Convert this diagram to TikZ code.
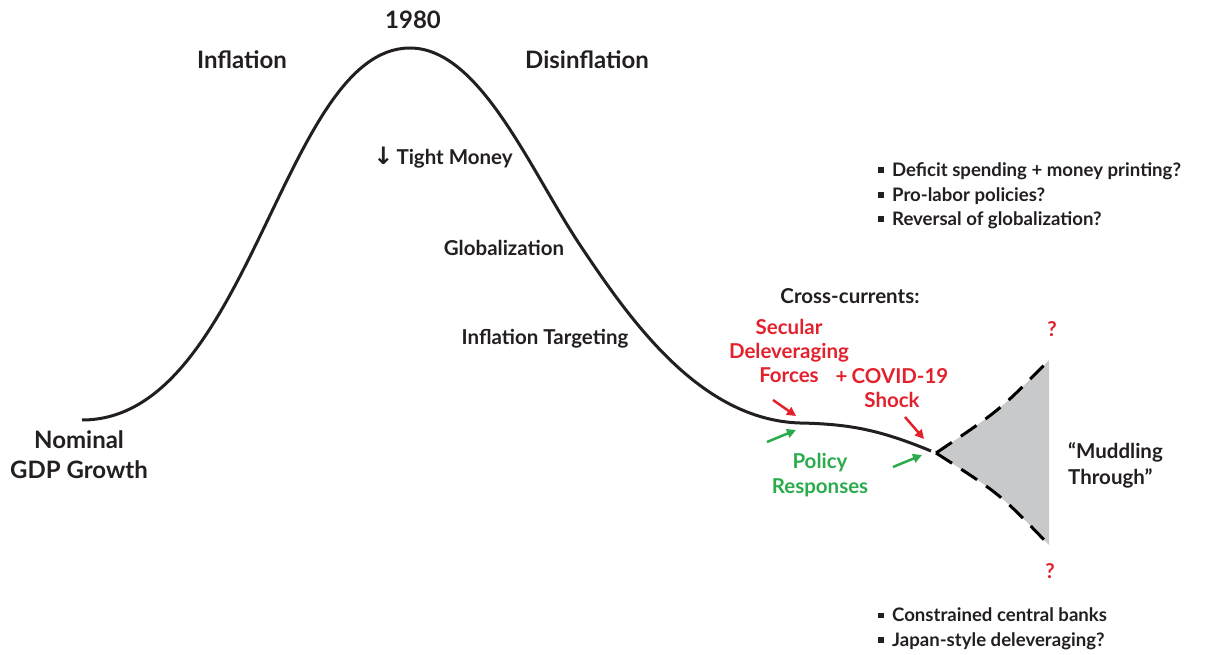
\documentclass[tikz,border=0pt]{standalone}
\usepackage{fontspec}
\setmainfont{Lato}
\newfontfamily\arrowfont{DejaVu Sans}
\usetikzlibrary{arrows.meta}
\definecolor{txtgray}{HTML}{231F20}
\definecolor{ptred}{HTML}{E3212D}
\definecolor{ptgreen}{HTML}{2BAB4B}
\definecolor{fangray}{HTML}{C8C9CB}
\newcommand{\sqbullet}{\raisebox{0.2em}{\rule{0.3em}{0.3em}}\hspace{0.45em}}

\begin{document}
\begin{tikzpicture}
    [x=1pt,y=-1pt,every node/.style={inner sep=0pt,text=txtgray,font=\bfseries},
     hdr/.style={font=\fontsize{24}{30}\selectfont\bfseries,align=center},
     lbl/.style={font=\fontsize{20.5}{26}\selectfont\bfseries},
     blt/.style={font=\fontsize{18.6}{24.5}\selectfont\bfseries,align=left,anchor=west},
     redlbl/.style={font=\fontsize{20.5}{24}\selectfont\bfseries,text=ptred,align=center},
     greenlbl/.style={font=\fontsize{20.5}{25}\selectfont\bfseries,text=ptgreen,align=center},
     push/.style={line width=2.5pt,-{Triangle[length=9pt,width=9pt]}}]
    \useasboundingbox (0,0) rectangle (1221,655);

    % the hump
    \draw [line width=3pt,txtgray] (82,420) .. controls (250,420) and (282,48) .. (410,48)
        .. controls (480,48) and (530,170) .. (580,245)
        .. controls (630,320) and (700,420) .. (800,423)
        .. controls (850,424) and (880,430) .. (931,451);

    % the fan
    \coordinate (apex) at (936,453);
    \coordinate (up) at (1049,360);
    \coordinate (dn) at (1049,545);
    \fill [fangray] (apex) .. controls (1000,410) .. (up) -- (dn) .. controls (1000,494) .. (apex) -- cycle;
    \draw [line width=3pt,dash pattern=on 19pt off 11pt] (apex) .. controls (1000,410) .. (up);
    \draw [line width=3pt,dash pattern=on 19pt off 11pt] (apex) .. controls (1000,494) .. (dn);

    \node[hdr] (yr) at (413,20) {1980};
    \node[hdr] (infl) at (242,60) {Inflation};
    \node[hdr] (disinfl) at (587,60) {Disinflation};
    \node[hdr] (ngdp) at (79,455) {Nominal\\GDP Growth};

    \node[lbl] (tight) at (443,158) {{\fontsize{24}{24}\selectfont\arrowfont ↓}\hspace{0.15em}Tight Money};
    \node[lbl] (glob) at (504,248) {Globalization};
    \node[lbl] (target) at (545,339) {Inflation Targeting};
    \node[lbl] (cross) at (850,296) {Cross-currents:};

    \node[redlbl] (secular) at (789,351) {Secular\\Deleveraging\\Forces};
    \node[redlbl] (covid) at (892,388) {+\hspace{0.2em}COVID-19\\Shock};
    \node[greenlbl] (policy) at (820,475) {Policy\\Responses};
    \node[redlbl] (qup) at (1052,329) {?};
    \node[redlbl] (qdn) at (1050,571) {?};

    \node[lbl,align=left,anchor=west] (muddle) at (1068,465) {“Muddling\\Through”};

    \node[blt] (upside) at (878,196) {\sqbullet Deficit spending + money printing?\\
        \sqbullet Pro-labor policies?\\
        \sqbullet Reversal of globalization?};
    \node[blt] (downside) at (878,629) {\sqbullet Constrained central banks\\
        \sqbullet Japan-style deleveraging?};

    \coordinate (r1a) at (773,400);
    \coordinate (r1b) at (796,416);
    \coordinate (r2a) at (905,417);
    \coordinate (r2b) at (924,439);
    \coordinate (g1a) at (767,442);
    \coordinate (g1b) at (796,430);
    \coordinate (g2a) at (893,467);
    \coordinate (g2b) at (922,455);
    \draw [push,ptred] (r1a) -- (r1b);
    \draw [push,ptred] (r2a) -- (r2b);
    \draw [push,ptgreen] (g1a) -- (g1b);
    \draw [push,ptgreen] (g2a) -- (g2b);
  \end{tikzpicture}
\end{document}
